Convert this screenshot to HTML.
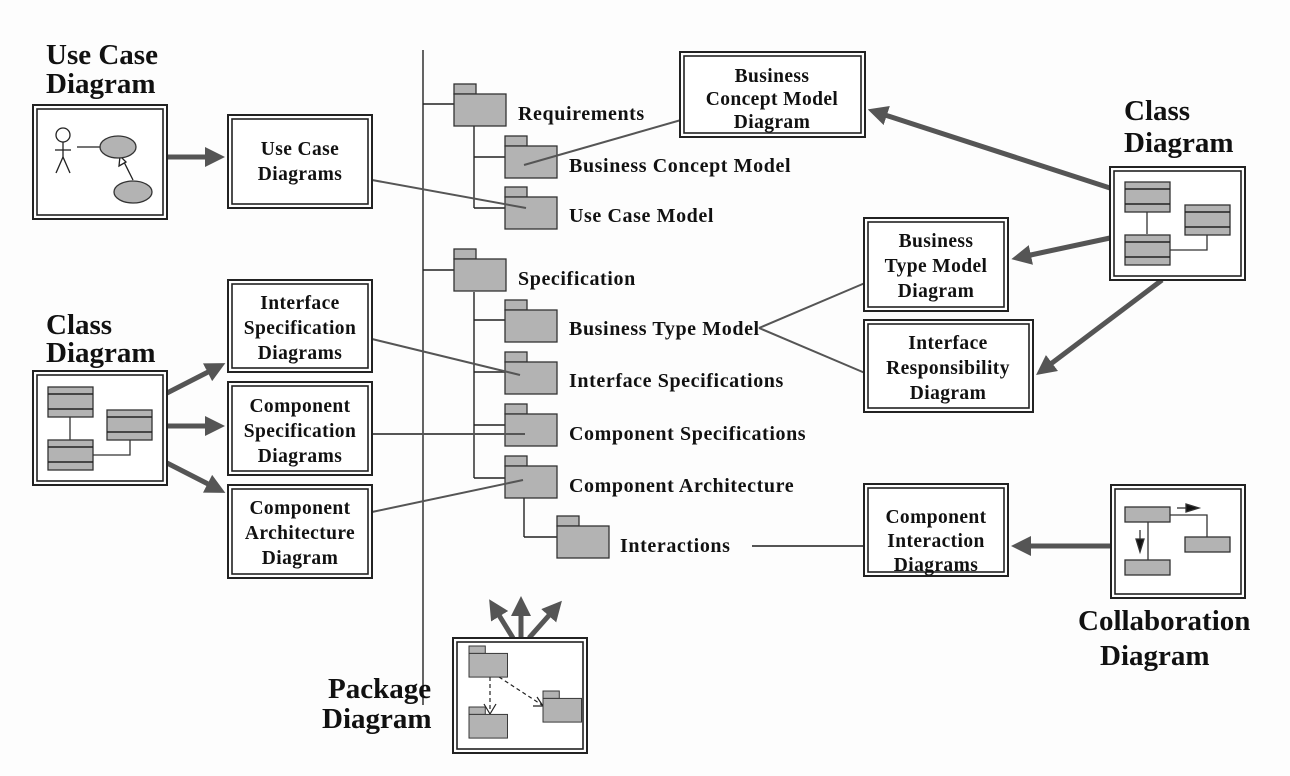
<!DOCTYPE html>
<html><head><meta charset="utf-8"><style>
html,body{margin:0;padding:0;background:#fdfdfd;}
svg{display:block;}
text{font-family:"Liberation Serif",serif;font-weight:bold;fill:#111;}
.t{font-size:29px;}
.b{font-size:19.5px;text-anchor:middle;letter-spacing:0.4px;}
.l{font-size:20px;letter-spacing:0.6px;}
</style></head><body>
<svg width="1290" height="776" viewBox="0 0 1290 776" xmlns="http://www.w3.org/2000/svg">
<defs>
<g id="fd"><rect x="0" y="0" width="22" height="10" fill="#b3b3b3" stroke="#333" stroke-width="1.3"/><rect x="0" y="10" width="52" height="32" fill="#b3b3b3" stroke="#333" stroke-width="1.3"/></g>
<g id="cls"><rect x="0" y="0" width="45" height="30" fill="#b3b3b3" stroke="#333" stroke-width="1.3"/><line x1="0" y1="7" x2="45" y2="7" stroke="#222" stroke-width="1.5"/><line x1="0" y1="22" x2="45" y2="22" stroke="#222" stroke-width="1.5"/></g>
<marker id="ah" markerWidth="4" markerHeight="4" refX="1" refY="2" orient="auto" markerUnits="strokeWidth"><path d="M0,0 L4,2 L0,4 z" fill="#555"/></marker>
</defs>

<g stroke="#222" stroke-width="1.4" fill="none">
<line x1="423" y1="50" x2="423" y2="705"/>
<line x1="423" y1="104" x2="454" y2="104"/>
<line x1="423" y1="270" x2="454" y2="270"/>
<line x1="474" y1="126" x2="474" y2="208"/>
<line x1="474" y1="157" x2="505" y2="157"/>
<line x1="474" y1="208" x2="505" y2="208"/>
<line x1="474" y1="292" x2="474" y2="478"/>
<line x1="474" y1="320" x2="505" y2="320"/>
<line x1="474" y1="372" x2="505" y2="372"/>
<line x1="474" y1="425" x2="505" y2="425"/>
<line x1="474" y1="478" x2="505" y2="478"/>
<line x1="524" y1="498" x2="524" y2="537"/>
<line x1="524" y1="537" x2="557" y2="537"/>
</g>
<use href="#fd" x="454" y="84"/>
<use href="#fd" x="505" y="136"/>
<use href="#fd" x="505" y="187"/>
<use href="#fd" x="454" y="249"/>
<use href="#fd" x="505" y="300"/>
<use href="#fd" x="505" y="352"/>
<use href="#fd" x="505" y="404"/>
<use href="#fd" x="505" y="456"/>
<use href="#fd" x="557" y="516"/>
<text class="l" x="518" y="120">Requirements</text>
<text class="l" x="569" y="172">Business Concept Model</text>
<text class="l" x="569" y="222">Use Case Model</text>
<text class="l" x="518" y="285">Specification</text>
<text class="l" x="569" y="335">Business Type Model</text>
<text class="l" x="569" y="387">Interface Specifications</text>
<text class="l" x="569" y="440">Component Specifications</text>
<text class="l" x="569" y="492">Component Architecture</text>
<text class="l" x="620" y="552">Interactions</text>

<g stroke="#555" stroke-width="2" fill="none">
<line x1="695" y1="116" x2="524" y2="165"/>
<line x1="372" y1="180" x2="526" y2="208"/>
<line x1="372" y1="339" x2="520" y2="375"/>
<line x1="372" y1="434" x2="525" y2="434"/>
<line x1="372" y1="512" x2="523" y2="480"/>
<line x1="759" y1="328" x2="865" y2="283"/>
<line x1="759" y1="328" x2="865" y2="373"/>
<line x1="752" y1="546" x2="865" y2="546"/>
</g>

<g stroke="#555" stroke-width="5" fill="none" marker-end="url(#ah)">
<line x1="167" y1="157" x2="210" y2="157"/>
<line x1="167" y1="393" x2="212" y2="370"/>
<line x1="167" y1="426" x2="210" y2="426"/>
<line x1="167" y1="463" x2="212" y2="486"/>
<line x1="1110" y1="188" x2="882" y2="114"/>
<line x1="1110" y1="238" x2="1026" y2="256"/>
<line x1="1162" y1="280" x2="1048" y2="366"/>
<line x1="1110" y1="546" x2="1026" y2="546"/>
<line x1="513" y1="638" x2="497" y2="612"/>
<line x1="521" y1="638" x2="521" y2="611"/>
<line x1="529" y1="638" x2="552" y2="612"/>
</g>

<g fill="#fff" stroke="#222">
<g><rect x="33" y="105" width="134" height="114" stroke-width="2"/><rect x="37" y="109" width="126" height="106" fill="none" stroke-width="1.6"/></g>
<g><rect x="33" y="371" width="134" height="114" stroke-width="2"/><rect x="37" y="375" width="126" height="106" fill="none" stroke-width="1.6"/></g>
<g><rect x="1110" y="167" width="135" height="113" stroke-width="2"/><rect x="1114" y="171" width="127" height="105" fill="none" stroke-width="1.6"/></g>
<g><rect x="1111" y="485" width="134" height="113" stroke-width="2"/><rect x="1115" y="489" width="126" height="105" fill="none" stroke-width="1.6"/></g>
<g><rect x="453" y="638" width="134" height="115" stroke-width="2"/><rect x="457" y="642" width="126" height="107" fill="none" stroke-width="1.6"/></g>
<g><rect x="228" y="115" width="144" height="93" stroke-width="2"/><rect x="232" y="119" width="136" height="85" fill="none" stroke-width="1.6"/></g>
<g><rect x="228" y="280" width="144" height="92" stroke-width="2"/><rect x="232" y="284" width="136" height="84" fill="none" stroke-width="1.6"/></g>
<g><rect x="228" y="382" width="144" height="93" stroke-width="2"/><rect x="232" y="386" width="136" height="85" fill="none" stroke-width="1.6"/></g>
<g><rect x="228" y="485" width="144" height="93" stroke-width="2"/><rect x="232" y="489" width="136" height="85" fill="none" stroke-width="1.6"/></g>
<g><rect x="680" y="52" width="185" height="85" stroke-width="2"/><rect x="684" y="56" width="177" height="77" fill="none" stroke-width="1.6"/></g>
<g><rect x="864" y="218" width="144" height="93" stroke-width="2"/><rect x="868" y="222" width="136" height="85" fill="none" stroke-width="1.6"/></g>
<g><rect x="864" y="320" width="169" height="92" stroke-width="2"/><rect x="868" y="324" width="161" height="84" fill="none" stroke-width="1.6"/></g>
<g><rect x="864" y="484" width="144" height="92" stroke-width="2"/><rect x="868" y="488" width="136" height="84" fill="none" stroke-width="1.6"/></g>
</g>

<text class="b" x="300" y="155">Use Case</text><text class="b" x="300" y="180">Diagrams</text>
<text class="b" x="300" y="309">Interface</text><text class="b" x="300" y="334">Specification</text><text class="b" x="300" y="359">Diagrams</text>
<text class="b" x="300" y="412">Component</text><text class="b" x="300" y="437">Specification</text><text class="b" x="300" y="462">Diagrams</text>
<text class="b" x="300" y="514">Component</text><text class="b" x="300" y="539">Architecture</text><text class="b" x="300" y="564">Diagram</text>
<text class="b" x="772" y="82">Business</text><text class="b" x="772" y="105">Concept Model</text><text class="b" x="772" y="128">Diagram</text>
<text class="b" x="936" y="247">Business</text><text class="b" x="936" y="272">Type Model</text><text class="b" x="936" y="297">Diagram</text>
<text class="b" x="948" y="349">Interface</text><text class="b" x="948" y="374">Responsibility</text><text class="b" x="948" y="399">Diagram</text>
<text class="b" x="936" y="523">Component</text><text class="b" x="936" y="547">Interaction</text><text class="b" x="936" y="571">Diagrams</text>

<text class="t" x="46" y="64">Use Case</text><text class="t" x="46" y="93">Diagram</text>
<text class="t" x="46" y="334">Class</text><text class="t" x="46" y="362">Diagram</text>
<text class="t" x="1124" y="120">Class</text><text class="t" x="1124" y="152">Diagram</text>
<text class="t" x="1078" y="630">Collaboration</text><text class="t" x="1100" y="665">Diagram</text>
<text class="t" x="328" y="698">Package</text><text class="t" x="322" y="728">Diagram</text>

<g stroke="#222" stroke-width="1.3" fill="none">
<circle cx="63" cy="135" r="7"/>
<line x1="63" y1="142" x2="63" y2="157"/>
<line x1="55" y1="150" x2="71" y2="150"/>
<line x1="63" y1="157" x2="56" y2="173"/>
<line x1="63" y1="157" x2="70" y2="173"/>
<line x1="77" y1="147" x2="100" y2="147"/>
<line x1="133" y1="180" x2="123" y2="160"/>
<path d="M120,156 L119,166 L126,162 z" fill="#fff"/>
</g>
<ellipse cx="118" cy="147" rx="18" ry="11" fill="#b3b3b3" stroke="#333" stroke-width="1.3"/>
<ellipse cx="133" cy="192" rx="19" ry="11" fill="#b3b3b3" stroke="#333" stroke-width="1.3"/>

<g stroke="#333" stroke-width="1.3" fill="none">
<line x1="70" y1="417" x2="70" y2="440"/><polyline points="93,455 130,455 130,440"/>
<line x1="1147" y1="212" x2="1147" y2="234"/><polyline points="1170,250 1207,250 1207,235"/>
</g>
<use href="#cls" x="48" y="387"/><use href="#cls" x="107" y="410"/><use href="#cls" x="48" y="440"/>
<use href="#cls" x="1125" y="182"/><use href="#cls" x="1185" y="205"/><use href="#cls" x="1125" y="235"/>

<g stroke="#333" stroke-width="1.3">
<line x1="1148" y1="522" x2="1148" y2="560"/>
<polyline points="1170,515 1207,515 1207,538" fill="none"/>
<line x1="1177" y1="508" x2="1187" y2="508"/><path d="M1186,504 L1199,508 L1186,512 z" fill="#111"/>
<line x1="1140" y1="530" x2="1140" y2="540"/><path d="M1136,539 L1140,552 L1144,539 z" fill="#111"/>
<rect x="1125" y="507" width="45" height="15" fill="#b3b3b3"/>
<rect x="1185" y="537" width="45" height="15" fill="#b3b3b3"/>
<rect x="1125" y="560" width="45" height="15" fill="#b3b3b3"/>
</g>

<g stroke="#222" stroke-width="1.2" fill="none" stroke-dasharray="4,3">
<line x1="490" y1="677" x2="490" y2="712"/>
<line x1="499" y1="677" x2="542" y2="705"/>
</g>
<g stroke="#222" stroke-width="1.2" fill="none">
<polyline points="484,704 490,714 496,704"/>
<polyline points="533,706 543,706 537,697"/>
</g>
<use href="#fd" transform="translate(469,646) scale(0.74)"/>
<use href="#fd" transform="translate(469,707) scale(0.74)"/>
<use href="#fd" transform="translate(543,691) scale(0.74)"/>
</svg>
</body></html>
